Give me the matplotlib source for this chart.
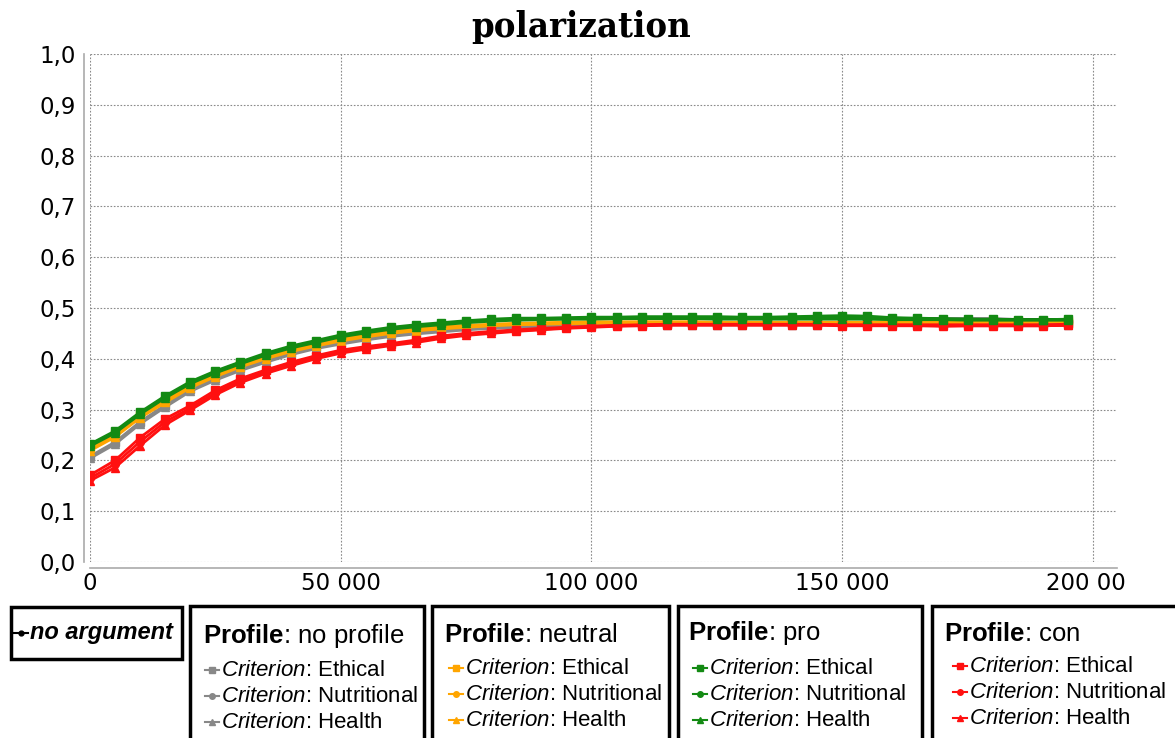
import matplotlib
matplotlib.use("Agg")
import matplotlib.pyplot as plt
from matplotlib.patches import Rectangle
from matplotlib.lines import Line2D
from matplotlib.ticker import FuncFormatter
from matplotlib.transforms import Bbox, TransformedBbox

plt.rcParams['mathtext.fontset'] = 'custom'
plt.rcParams['mathtext.rm'] = 'Liberation Sans'
plt.rcParams['mathtext.it'] = 'Liberation Sans:italic'
plt.rcParams['mathtext.bf'] = 'Liberation Sans:bold'

title = "polarization"
steps = [0, 5000, 10000, 15000, 20000, 25000, 30000, 35000, 40000, 45000,
         50000, 55000, 60000, 65000, 70000, 75000, 80000, 85000, 90000, 95000,
         100000, 105000, 110000, 115000, 120000, 125000, 130000, 135000, 140000, 145000,
         150000, 155000, 160000, 165000, 170000, 175000, 180000, 185000, 190000, 195000]

x_ticks = [0, 50000, 100000, 150000, 200000]
x_tick_labels = ["0", "50 000", "100 000", "150 000", "200 000"]
y_ticks = [0.0, 0.1, 0.2, 0.3, 0.4, 0.5, 0.6, 0.7, 0.8, 0.9, 1.0]

no_argument = [0.229,0.255,0.292,0.324,0.352,0.373,0.391,0.408,0.422,0.433,0.444,0.452,0.459,0.465,0.469,0.473,0.476,0.478,0.479,0.480,
               0.481,0.481,0.482,0.482,0.482,0.482,0.482,0.482,0.481,0.481,0.481,0.481,0.480,0.480,0.479,0.479,0.479,0.478,0.478,0.478]

noprofile_ethical = [0.208,0.236,0.276,0.309,0.340,0.362,0.381,0.397,0.412,0.424,0.433,0.441,0.448,0.453,0.457,0.461,0.463,0.465,0.466,0.467,
                     0.468,0.469,0.469,0.469,0.470,0.470,0.470,0.470,0.470,0.470,0.470,0.470,0.470,0.470,0.470,0.470,0.470,0.470,0.470,0.470]
noprofile_nutritional = [0.206,0.234,0.274,0.307,0.338,0.360,0.379,0.395,0.410,0.422,0.431,0.439,0.446,0.451,0.455,0.459,0.461,0.463,0.464,0.465,
                         0.466,0.467,0.467,0.468,0.468,0.468,0.468,0.468,0.468,0.468,0.468,0.468,0.468,0.468,0.468,0.468,0.468,0.468,0.468,0.468]
noprofile_health = [0.204,0.232,0.272,0.305,0.336,0.358,0.377,0.393,0.408,0.420,0.429,0.437,0.444,0.449,0.453,0.457,0.460,0.462,0.463,0.464,
                    0.465,0.466,0.466,0.467,0.467,0.467,0.467,0.467,0.467,0.467,0.467,0.467,0.467,0.467,0.467,0.467,0.467,0.467,0.467,0.467]

neutral_ethical = [0.224,0.251,0.289,0.319,0.348,0.370,0.389,0.405,0.419,0.430,0.440,0.448,0.454,0.459,0.463,0.466,0.468,0.470,0.471,0.472,
                   0.473,0.473,0.473,0.473,0.473,0.472,0.472,0.472,0.472,0.472,0.472,0.472,0.473,0.473,0.473,0.473,0.474,0.474,0.474,0.475]
neutral_nutritional = [0.221,0.248,0.286,0.316,0.345,0.367,0.386,0.402,0.416,0.427,0.437,0.445,0.451,0.456,0.460,0.463,0.466,0.468,0.469,0.470,
                       0.471,0.471,0.471,0.471,0.471,0.470,0.470,0.470,0.470,0.470,0.470,0.470,0.471,0.471,0.471,0.472,0.472,0.472,0.473,0.474]
neutral_health = [0.219,0.246,0.284,0.314,0.343,0.365,0.384,0.400,0.414,0.425,0.435,0.443,0.450,0.455,0.459,0.462,0.465,0.467,0.468,0.469,
                  0.470,0.470,0.470,0.470,0.470,0.469,0.469,0.469,0.469,0.469,0.469,0.469,0.470,0.470,0.470,0.471,0.471,0.471,0.472,0.473]

pro_ethical = [0.232,0.258,0.295,0.327,0.355,0.376,0.394,0.411,0.425,0.436,0.447,0.455,0.462,0.467,0.471,0.475,0.478,0.480,0.480,0.481,
               0.482,0.482,0.483,0.483,0.483,0.483,0.482,0.482,0.483,0.484,0.485,0.484,0.481,0.480,0.479,0.478,0.478,0.477,0.477,0.478]
pro_nutritional = [0.230,0.256,0.293,0.325,0.353,0.374,0.392,0.409,0.423,0.434,0.445,0.453,0.460,0.465,0.469,0.473,0.476,0.478,0.478,0.479,
                   0.480,0.481,0.481,0.481,0.481,0.480,0.480,0.480,0.480,0.480,0.480,0.481,0.480,0.479,0.478,0.478,0.477,0.477,0.477,0.477]
pro_health = [0.228,0.254,0.291,0.323,0.351,0.372,0.390,0.407,0.421,0.432,0.443,0.451,0.458,0.463,0.467,0.471,0.474,0.476,0.477,0.478,
              0.478,0.479,0.479,0.479,0.479,0.478,0.478,0.478,0.478,0.478,0.478,0.478,0.477,0.477,0.477,0.476,0.476,0.476,0.476,0.476]

con_ethical = [0.171,0.200,0.245,0.282,0.308,0.338,0.361,0.378,0.393,0.406,0.417,0.424,0.430,0.437,0.445,0.450,0.454,0.457,0.460,0.462,
               0.464,0.466,0.467,0.468,0.468,0.468,0.468,0.468,0.468,0.468,0.467,0.467,0.467,0.467,0.467,0.467,0.467,0.467,0.467,0.468]
con_nutritional = [0.165,0.193,0.237,0.276,0.303,0.333,0.357,0.374,0.389,0.403,0.414,0.421,0.428,0.434,0.442,0.448,0.452,0.455,0.458,0.461,
                   0.463,0.465,0.466,0.467,0.467,0.467,0.467,0.467,0.467,0.467,0.466,0.466,0.466,0.466,0.465,0.465,0.465,0.465,0.465,0.466]
con_health = [0.160,0.186,0.229,0.270,0.299,0.329,0.353,0.371,0.386,0.400,0.411,0.419,0.426,0.432,0.440,0.446,0.450,0.454,0.457,0.460,
              0.462,0.464,0.465,0.466,0.466,0.466,0.466,0.466,0.466,0.466,0.465,0.465,0.465,0.465,0.464,0.465,0.465,0.465,0.465,0.466]

profiles = ["no profile", "neutral", "pro", "con"]
criteria = ["Ethical", "Nutritional", "Health"]
profile_colors = {"no profile": "#888888", "neutral": "#FFA500", "pro": "#138A13", "con": "#FF1010"}
criterion_markers = {"Ethical": "s", "Nutritional": "o", "Health": "^"}
series = {
    "no profile": [noprofile_ethical, noprofile_nutritional, noprofile_health],
    "neutral": [neutral_ethical, neutral_nutritional, neutral_health],
    "pro": [pro_ethical, pro_nutritional, pro_health],
    "con": [con_ethical, con_nutritional, con_health],
}

W, H = 1175, 738
fig = plt.figure(figsize=(W / 100, H / 100), dpi=100)
ax = fig.add_axes([90 / W, 1 - 562 / H, (1117 - 90) / W, (562 - 54) / H])

ax.plot(steps, no_argument, color="black", lw=1.6, marker="o", ms=3.5, zorder=2.5)
for prof in ["no profile", "neutral", "con", "pro"]:
    for crit, vals in zip(criteria, series[prof]):
        ax.plot(steps, vals, color=profile_colors[prof], lw=2.0,
                marker=criterion_markers[crit], ms=5.5, zorder=3)

x_right = 200000 * (1117 - 91) / (1093 - 91)
ax.set_xlim(0, x_right)
ax.set_ylim(0, 1.0)
ax.set_xticks(x_ticks)
ax.set_xticklabels(x_tick_labels)
ax.set_yticks(y_ticks)
ax.yaxis.set_major_formatter(FuncFormatter(lambda v, p: f"{v:.1f}".replace(".", ",")))
ax.grid(True, color="#8a8a8a", linestyle=(0, (1.5, 1.5)), linewidth=0.8)
ax.set_axisbelow(True)
for s in ["top", "right"]:
    ax.spines[s].set_visible(False)
for s in ["left", "bottom"]:
    ax.spines[s].set_position(("outward", 4))
    ax.spines[s].set_color("#aaaaaa")
    ax.spines[s].set_linewidth(1.2)
ax.tick_params(length=0, labelsize=16.5, pad=3)
for lab in ax.get_xticklabels() + ax.get_yticklabels():
    lab.set_fontfamily("DejaVu Sans")
ax.tick_params(axis="y", pad=6)
# clip x tick labels at the right image edge like reference
clip = TransformedBbox(Bbox([[0, 0], [1127 / W, 1]]), fig.transFigure)
for lab in ax.get_xticklabels():
    lab.set_clip_on(True)
    lab.set_clip_box(clip)

fig.text(581 / W, 1 - 27 / H, title, ha="center", va="center",
         fontsize=26, fontweight="bold", family="DejaVu Serif", fontstretch="condensed")

# legend boxes
def box(x0, y0, x1, y1):
    fig.patches.append(Rectangle((x0 / W, 1 - y1 / H), (x1 - x0) / W, (y1 - y0) / H,
                                 transform=fig.transFigure, fill=False,
                                 edgecolor="black", linewidth=2.5, zorder=5))

def key(xc, yc, color, marker, ms=5):
    fig.lines.append(Line2D([(xc - 7) / W, (xc + 7) / W], [1 - yc / H, 1 - yc / H],
                            transform=fig.transFigure, color=color, lw=1.5,
                            marker=None))
    fig.lines.append(Line2D([xc / W], [1 - yc / H], transform=fig.transFigure,
                            color=color, marker=marker, ms=ms, lw=0))

box(11, 607, 182, 659)
key(21, 633, "black", "o", 3.5)
fig.text(30 / W, 1 - 633 / H, "no argument", fontsize=17, fontweight="bold",
         style="italic", family="Liberation Sans", va="center", ha="left")

box_specs = [(190, 424, 203, 212), (432, 669, 444, 456), (678, 922, 688, 700), (932, 1178, 944, 960)]
header_y = [636, 635, 633, 634]
item_y0 = [670, 668, 668, 666]
for (x0, x1, hx, kx), prof, hy, iy in zip(box_specs, profiles, header_y, item_y0):
    box(x0, 606, x1, 745)
    fig.text(hx / W, 1 - hy / H, r"$\mathbf{Profile}$: " + prof, fontsize=18.5,
             family="Liberation Sans", va="center", ha="left")
    for i, crit in enumerate(criteria):
        yy = iy + 26 * i
        key(kx, yy, profile_colors[prof], criterion_markers[crit], 4)
        fig.text((kx + 9) / W, 1 - yy / H, r"$\mathit{Criterion}$: " + crit, fontsize=16,
                 family="Liberation Sans", va="center", ha="left")

fig.savefig("out.png", dpi=100)
